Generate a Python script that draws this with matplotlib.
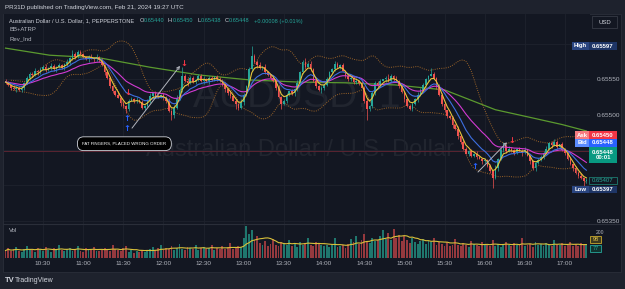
import numpy as np
import pandas as pd
import matplotlib
matplotlib.use("Agg")
import matplotlib.pyplot as plt
from matplotlib.patches import Rectangle
from matplotlib.lines import Line2D

plt.rcParams['font.family'] = ['Liberation Sans', 'DejaVu Sans']

# ---------------------------------------------------------------- data
PUBLISHED = "PR31D published on TradingView.com, Feb 21, 2024 19:27 UTC"
SYMBOL_TITLE = "Australian Dollar / U.S. Dollar, 1, PEPPERSTONE"
OHLC_LEGEND = [("O", "0.65440"), ("H", "0.65450"), ("L", "0.65438"), ("C", "0.65448")]
CHANGE_TEXT = "+0.00008 (+0.01%)"
INDICATORS = ["BB+ATRP", "Rev_Ind"]
WATERMARK = "AUDUSD, 1"
WATERMARK_SUB = "Australian Dollar / U.S. Dollar"
NOTE = "FAT FINGERS, PLACED WRONG ORDER"

BASE = 0.65          # prices below are in 1e-5 above this base
PT = 1e-5
START_MIN = 2        # first bar 10:02 (minutes after 10:00)
BAR_STEP = 2         # minutes per candle
FIRST_OPEN = 548

CLOSES = [
    546, 542, 538, 536, 538, 535, 537, 545, 552, 558,
    556, 562, 560, 565, 568, 563, 566, 569, 564, 567,
    570, 566, 571, 574, 580, 585, 582, 588, 586, 581,
    579, 582, 580, 578, 581, 577, 570, 560, 552, 540,
    534, 528, 524, 516, 512, 508, 520, 522, 519, 521,
    518, 510, 512, 520, 526, 530, 527, 525, 528, 524,
    520, 505, 500, 510, 522, 535, 555, 548, 545, 552,
    546, 549, 555, 548, 551, 547, 552, 549, 553, 550,
    548, 542, 536, 530, 526, 520, 515, 510, 518, 528,
    540, 565, 583, 575, 570, 566, 568, 560, 556, 552,
    548, 538, 525, 515, 520, 528, 533, 530, 536, 545,
    560, 575, 568, 572, 565, 548, 540, 535, 538, 542,
    550, 560, 565, 572, 568, 570, 562, 555, 550, 552,
    546, 548, 545, 538, 520, 508, 512, 530, 545, 542,
    548, 550, 552, 548, 555, 551, 547, 540, 532, 522,
    512, 508, 515, 522, 528, 535, 542, 550, 555, 558,
    552, 540, 528, 515, 506, 498, 495, 485, 480, 470,
    462, 452, 445, 448, 442, 445, 440, 438, 434, 436,
    428, 420, 410, 425, 438, 450, 456, 448, 452, 450,
    446, 452, 449, 447, 450, 442, 434, 424, 432, 436,
    440, 446, 452, 460, 457, 462, 455, 458, 450, 446,
    438, 430, 424, 418, 414, 410, 406, 408,
]
WICK_UP = ("3214223132 2413231422 3125213241 2231423213 2142312324 1322413213 "
           "2314132242 2132413223 3241322143 2213241322 3142231324 1232413221 "
           "3214223132 2413231422 3125213241 2231423213 2142312324 1322413213 "
           "2314132242 2132413223 3241322143 22132413")
WICK_DN = ("2231413223 3142231324 1232413221 2413231422 3214223132 2231423213 "
           "3125213241 1322413213 2142312324 2132413223 2314132242 3241322143 "
           "2213241322 2231413223 3142231324 1232413221 2413231422 3214223132 "
           "2231423213 3125213241 1322413213 21423123")
HIGH_OVERRIDES = {52: 591, 56: 592, 130: 528, 134: 568, 186: 597, 226: 580,
                  320: 566, 374: 461, 412: 465}
LOW_OVERRIDES = {92: 502, 126: 493, 174: 508, 208: 508, 272: 493, 340: 466,
                 366: 397, 434: 399}

VOLUME = [
    55, 72, 48, 63, 80, 52, 45, 66, 90, 58, 61, 47, 75, 68, 52, 84, 59, 43, 70, 62,
    95, 57, 49, 66, 73, 51, 60, 88, 54, 46, 71, 63, 58, 82, 49, 55, 67, 74, 60, 52,
    92, 65, 57, 48, 70, 85,
    45, 58, 40, 52, 47, 60, 43, 55,
    68, 82, 60, 75, 95, 58, 72, 66, 88, 62, 70, 105, 64, 57, 80, 73, 68, 92, 59, 77,
    84, 65, 71, 98, 60, 74, 69, 86, 63, 78, 110, 67, 72, 90, 81,
    150, 235, 180, 205, 130, 160,
    110, 95, 125, 88, 102, 140, 92, 85, 118, 105, 97, 130, 90, 112, 84, 120, 99, 108,
    150, 94, 87, 115, 103, 96,
    85, 98, 78, 92, 150, 80, 88, 95, 74, 100,
    140, 115, 160, 105, 130, 175, 120, 110, 145, 125, 135,
    160, 205, 140, 185, 130, 215, 150, 170, 125, 165,
    135, 110, 150, 118, 100, 125, 140, 105, 128, 115, 145, 98, 120,
    105, 90, 120, 85, 98, 140, 92, 88, 110, 95, 80, 125, 100, 93, 85, 115, 102, 96,
    88, 130, 90, 105, 84, 98, 118, 92, 87, 110, 95, 100, 150, 89, 97, 105, 82, 120,
    94, 100, 88, 112, 96, 85, 135, 92, 99, 108, 86, 95, 118, 90, 102, 88, 110, 94, 98,
]

LONG_MA_T = [2, 35, 73, 110, 147, 185, 222, 256, 293, 330, 368, 392, 418, 436]
LONG_MA_V = [594, 584, 580, 567, 556, 549, 546, 545, 542, 535, 507, 497, 486, 477]

TIME_TICKS = [30, 60, 90, 120, 150, 180, 210, 240, 270, 300, 330, 360, 390, 420]
TIME_LABELS = ["10:30", "11:00", "11:30", "12:00", "12:30", "13:00", "13:30",
               "14:00", "14:30", "15:00", "15:30", "16:00", "16:30", "17:00"]
PRICE_TICKS = [0.65350, 0.65400, 0.65450, 0.65500, 0.65550, 0.65600]
PRICE_LABELS = ["0.65350", "", "", "0.65500", "0.65550", ""]   # others hidden behind labels
LAST_LINE = 449

ARROWS_UP = [(92.8, 494), (92.8, 481), (352.8, 427)]
ARROWS_DOWN = [(93.5, 531), (135.0, 572), (380.4, 463)]
TREND_LINES = [((96.5, 481), (132.4, 569)), ((355.0, 419), (376.7, 461))]
NOTE_POS = (90.8, 459)

# ---------------------------------------------------------------- prepare
n = len(CLOSES)
wu = np.array([int(ch) for ch in WICK_UP.replace(" ", "")])
wd = np.array([int(ch) for ch in WICK_DN.replace(" ", "")])
assert len(wu) == n and len(wd) == n and len(VOLUME) == n, (n, len(wu), len(wd), len(VOLUME))
t = START_MIN + BAR_STEP * np.arange(n)
c = BASE + np.array(CLOSES) * PT
o = np.concatenate([[BASE + FIRST_OPEN * PT], c[:-1]])
hi = np.maximum(o, c) + wu * PT
lo = np.minimum(o, c) - wd * PT
for m, v in HIGH_OVERRIDES.items():
    i = (m - START_MIN) // BAR_STEP
    hi[i] = max(hi[i], BASE + v * PT)
for m, v in LOW_OVERRIDES.items():
    i = (m - START_MIN) // BAR_STEP
    lo[i] = min(lo[i], BASE + v * PT)
up = c >= o
UPC, DNC = '#26a69a', '#ef5350'
cols = np.where(up, UPC, DNC)

s = pd.Series(c)
ema_fast = s.ewm(span=4, adjust=False).mean()
ema_mid = s.ewm(span=10, adjust=False).mean()
ema_slow = s.ewm(span=22, adjust=False).mean()
mid = s.rolling(14, min_periods=3).mean()
sd = s.rolling(14, min_periods=3).std(ddof=0)
bb_up = (mid + 2.0 * sd).rolling(4, min_periods=1).mean()
bb_dn = (mid - 2.0 * sd).rolling(4, min_periods=1).mean()

vol = np.array(VOLUME, dtype=float)
vol_ma = pd.Series(vol).rolling(10, min_periods=1).mean()

# ---------------------------------------------------------------- figure
W, H = 625, 289
fig = plt.figure(figsize=(W / 100, H / 100), dpi=100, facecolor='#1e222d')


def fx(p):
    return p / W


def fy(p):
    return 1 - p / H


BG = '#131722'
TXT = '#d1d4dc'
AX_TXT = '#b2b5be'
GRID = '#1e222d'
WM = '#21252f'

fig.add_artist(Rectangle((fx(3), fy(272)), fx(618), 258 / H, transform=fig.transFigure,
                         facecolor=BG, edgecolor='#2a2e39', lw=0.6, zorder=0))

# price pane
ax = fig.add_axes([fx(4), fy(224), fx(586), 210 / H])
ax.set_facecolor(BG)
ax.set_xlim(0.86, 438.7)
ax.set_ylim(BASE + 345.6 * PT, BASE + 642.2 * PT)
for sp in ax.spines.values():
    sp.set_visible(False)
ax.yaxis.tick_right()
ax.set_yticks(PRICE_TICKS)
ax.set_yticklabels(PRICE_LABELS)
ax.tick_params(axis='y', length=0, pad=5, labelsize=4.6, labelcolor=AX_TXT)
ax.set_xticks(TIME_TICKS)
ax.tick_params(axis='x', length=0, labelbottom=False)
ax.grid(True, color=GRID, lw=0.6)
ax.set_axisbelow(True)

ax.text(fx(297), fy(97), WATERMARK, transform=fig.transFigure, fontsize=28,
        color=WM, ha='center', va='center', zorder=0.5)
ax.text(fx(300), fy(150), WATERMARK_SUB, transform=fig.transFigure, fontsize=17,
        color=WM, ha='center', va='center', zorder=0.5)

ax.axhline(BASE + LAST_LINE * PT, color='#5a2431', lw=0.7, zorder=1.5)

ax.plot(LONG_MA_T, BASE + np.array(LONG_MA_V) * PT, color='#5b9a2f', lw=0.9, zorder=2)
ax.plot(t, bb_up, color='#9c6428', lw=0.7, ls=(0, (1, 1.3)), zorder=2)
ax.plot(t, bb_dn, color='#9c6428', lw=0.7, ls=(0, (1, 1.3)), zorder=2)

ax.vlines(t, lo, hi, colors=cols, lw=0.5, zorder=3)
body = np.maximum(np.abs(c - o), 0.4 * PT)
ax.bar(t, body, bottom=np.minimum(o, c), width=1.2, color=cols, lw=0, zorder=3)

ax.plot(t, ema_slow, color='#d23ad2', lw=0.8, zorder=4)
ax.plot(t, ema_mid, color='#3d6fe0', lw=0.8, zorder=4)
ax.plot(t, ema_fast, color='#e8c53a', lw=0.8, zorder=4)

for m, v in ARROWS_UP:
    ax.text(m, BASE + v * PT, '↑', color='#2962ff', fontsize=6, ha='center', va='center',
            fontweight='bold', family='DejaVu Sans', zorder=6)
for m, v in ARROWS_DOWN:
    ax.text(m, BASE + v * PT, '↓', color='#f23645', fontsize=6, ha='center', va='center',
            fontweight='bold', family='DejaVu Sans', zorder=6)
for (m0, v0), (m1, v1) in TREND_LINES:
    ax.annotate('', xy=(m1, BASE + v1 * PT), xytext=(m0, BASE + v0 * PT),
                arrowprops=dict(arrowstyle='->', color='#b2b5be', lw=0.7,
                                shrinkA=0, shrinkB=0, mutation_scale=5), zorder=6)
ax.text(NOTE_POS[0], BASE + NOTE_POS[1] * PT, NOTE, fontsize=3.2, color='white',
        ha='center', va='center', zorder=7,
        bbox=dict(boxstyle='round,pad=1.1,rounding_size=1.4', fc='black', ec='#d1d4dc', lw=0.6))

# volume pane
vax = fig.add_axes([fx(4), fy(258), fx(586), 34 / H])
vax.set_facecolor(BG)
vax.set_xlim(0.86, 438.7)
vax.set_ylim(0, 250)
for sp in vax.spines.values():
    sp.set_visible(False)
vax.set_yticks([])
vax.set_xticks(TIME_TICKS)
vax.set_xticklabels(TIME_LABELS)
vax.tick_params(axis='x', length=0, pad=2.5, labelsize=4.6, labelcolor=AX_TXT)
vax.grid(True, axis='x', color=GRID, lw=0.6)
vax.set_axisbelow(True)
vcols = np.where(up, '#1f776e', '#95393e')
vax.bar(t, vol, width=1.4, color=vcols, lw=0, zorder=2)
vax.plot(t, vol_ma, color='#d9c13a', lw=0.8, zorder=3)

fig.add_artist(Line2D([fx(3), fx(621)], [fy(224), fy(224)], color='#2a2e39', lw=0.8,
                      transform=fig.transFigure, zorder=4))

# ---------------------------------------------------------------- texts
LFS = 4.1
fig.text(fx(5), fy(7), PUBLISHED, fontsize=4.5, color=TXT, va='center')
fig.text(fx(9), fy(21), SYMBOL_TITLE, fontsize=LFS, color=TXT, va='center')
ohlc_x = [(140, 144), (168, 172.5), (197, 200.5), (225, 229)]
for (lx, vx), (lab, val) in zip(ohlc_x, OHLC_LEGEND):
    fig.text(fx(lx), fy(21), lab, fontsize=LFS, color=TXT, va='center')
    fig.text(fx(vx), fy(21), val, fontsize=LFS, color=UPC, va='center')
fig.text(fx(254), fy(21), CHANGE_TEXT, fontsize=LFS, color=UPC, va='center')
fig.text(fx(9), fy(29.5), INDICATORS[0], fontsize=4.3, color=AX_TXT, va='center')
fig.text(fx(9), fy(38.5), INDICATORS[1], fontsize=4.3, color=AX_TXT, va='center')
fig.text(fx(9), fy(230), "Vol", fontsize=4.3, color=AX_TXT, va='center')


def box(x0, x1, y0, y1, fc, txt, tc='white', ec='none', fs=4.3, weight='normal'):
    fig.add_artist(Rectangle((fx(x0), fy(y1)), fx(x1 - x0), (y1 - y0) / H,
                             transform=fig.transFigure, facecolor=fc, edgecolor=ec,
                             lw=0.6, zorder=5))
    fig.text(fx((x0 + x1) / 2), fy((y0 + y1) / 2), txt, color=tc, fontsize=fs,
             ha='center', va='center', zorder=6, weight=weight, linespacing=1.15)


box(592, 617, 16, 28, BG, 'USD', TXT, ec='#363a45')
box(572, 589, 42, 50, '#2a4580', 'High', weight='bold')
box(589, 617, 42, 50, '#1e3566', '0.65597', weight='bold')
box(575, 589, 131, 139, '#f77c80', 'Ask', weight='bold')
box(589, 617, 131, 139, '#f23645', '0.65450', weight='bold')
box(575, 589, 139, 147, '#5b8cff', 'Bid', weight='bold')
box(589, 617, 139, 147, '#2962ff', '0.65448', weight='bold')
box(589, 617, 147, 163, '#089981', '0.65448\n00:01', weight='bold')
box(589, 617, 177, 184, BG, '0.65407', '#26a69a', ec='#1d7a6f')
box(572, 589, 186, 193, '#2a4580', 'Low', weight='bold')
box(589, 617, 186, 193, '#1e3566', '0.65397', weight='bold')

fig.text(fx(600), fy(232.5), '200', fontsize=3.6, color=AX_TXT, va='center', ha='center')
box(590, 601, 236, 243, '#3d3a1e', '98', '#f0d050', ec='#c9a82e', fs=4.0)
box(590, 601, 245, 252, '#10332f', '77', '#26a69a', ec='#26a69a', fs=4.0)

fig.text(fx(5), fy(281), 'TV', fontsize=5.5, color=TXT, va='center', weight='bold')
fig.text(fx(15), fy(281), 'TradingView', fontsize=5, color=TXT, va='center')

fig.savefig('out.png', dpi=100, facecolor=fig.get_facecolor())
